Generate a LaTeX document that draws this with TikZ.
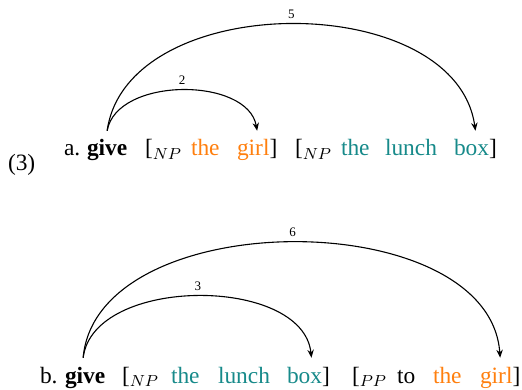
\documentclass[tikz,border=0pt]{standalone}
\usepackage{fontspec}
\setmainfont{Liberation Serif}
\usetikzlibrary{arrows.meta,positioning}
\definecolor{girlorange}{RGB}{255,127,14}
\definecolor{boxteal}{RGB}{23,138,138}

\begin{document}
\begin{tikzpicture}[
  x=0.5pt, y=0.5pt,
  word/.style={
    anchor=base west, inner sep=0pt, outer sep=0pt,
    font=\fontsize{11.7}{14}\selectfont
  },
  girlword/.style={word, text=girlorange},
  boxword/.style={word, text=boxteal},
  dep/.style={
    line width=0.55pt,
    -{Stealth[length=4pt,width=3.2pt]}
  },
  lbl/.style={
    above, inner sep=2.3pt, font=\fontsize{6.5}{7}\selectfont
  }
]
\useasboundingbox (0,0) rectangle (522,389);

% Example number
\node[word] (exnum) at (8,218) {(3)};

% Line a
\node[word] (alabel) at (64,233) {a.};
\node[word, font=\fontsize{11.7}{14}\selectfont\bfseries] (agive) at (87,233) {give};
\node[word] (anp1) at (145,233) {[$_{NP}$};
\node[girlword] (athe1) at (191,233) {the};
\node[word] (agirl) at (237,233) {\textcolor{girlorange}{girl}]};
\node[word] (anp2) at (295,233) {[$_{NP}$};
\node[boxword] (athe2) at (341,233) {the};
\node[boxword] (alunch) at (385,233) {lunch};
\node[word] (abox) at (454,233) {\textcolor{boxteal}{box}]};

% Line b
\node[word] (blabel) at (40,6) {b.};
\node[word, font=\fontsize{11.7}{14}\selectfont\bfseries] (bgive) at (65,6) {give};
\node[word] (bnp) at (122,6) {[$_{NP}$};
\node[boxword] (bthe1) at (171,6) {the};
\node[boxword] (blunch) at (218,6) {lunch};
\node[word] (bbox) at (287,6) {\textcolor{boxteal}{box}]};
\node[word] (bpp) at (352,6) {[$_{PP}$};
\node[word] (bto) at (397,6) {to};
\node[girlword] (bthe2) at (433,6) {the};
\node[word] (bgirl) at (480,6) {\textcolor{girlorange}{girl}]};

% Arcs
\draw[dep] ([yshift=4.5pt]agive.north) to[out=80,in=100,looseness=0.94]
  node[lbl] {2} ([yshift=4.5pt]agirl.north);
\draw[dep] ([yshift=4.5pt]agive.north) to[out=82,in=98,looseness=1.0]
  node[lbl] {5} ([yshift=4.5pt]abox.north);
\draw[dep] ([xshift=-1pt,yshift=4.5pt]bgive.north) to[out=83,in=96,looseness=0.93]
  node[lbl] {3} ([xshift=1.5pt,yshift=4.5pt]bbox.north);
\draw[dep] ([xshift=-1pt,yshift=4.5pt]bgive.north) to[out=85,in=94,looseness=0.95]
  node[lbl] {6} ([yshift=4.5pt]bgirl.north);

\end{tikzpicture}
\end{document}
